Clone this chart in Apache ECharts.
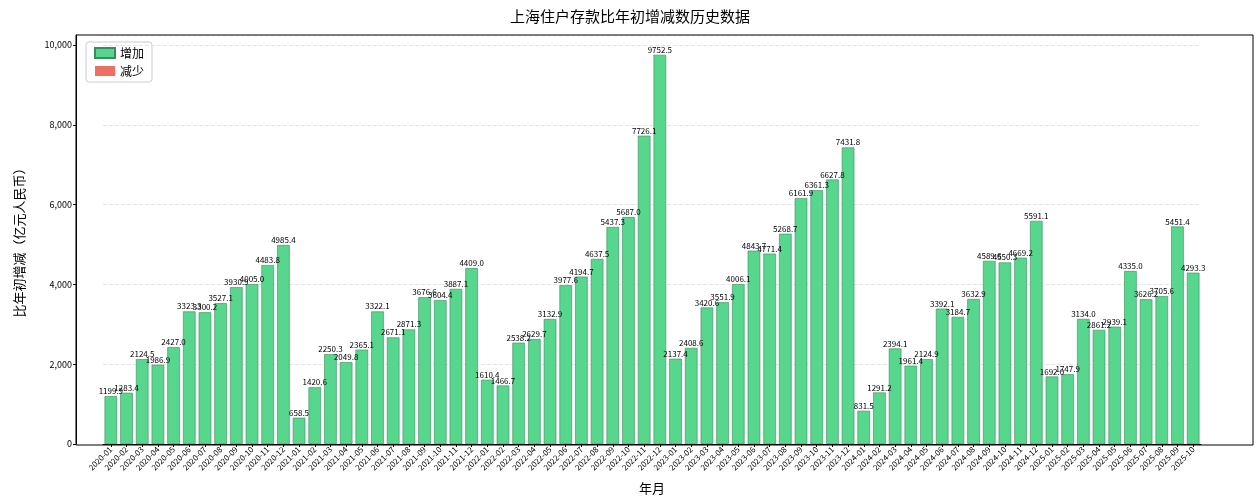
<!DOCTYPE html>
<html>
<head>
<meta charset="utf-8">
<script src="https://cdn.jsdelivr.net/npm/echarts@6/dist/echarts.min.js"></script>
<style>html,body{margin:0;padding:0;background:#fff}#main{width:1260px;height:500px}</style>
</head>
<body>
<div id="main"></div>
<script>
var years = ['2020', '2021', '2022', '2023', '2024', '2025'];
var months = [];
years.forEach(function (y) {
    for (var m = 1; m <= 12; m++) {
        if (y === '2025' && m > 10) break;
        months.push(y + '-' + (m < 10 ? '0' + m : m));
    }
});

var values = [
    1199.9, 1283.4, 2124.5, 1986.9, 2427.0, 3323.3, 3300.2, 3527.1, 3930.9, 4005.0, 4483.8, 4985.4,
    658.5, 1420.6, 2250.3, 2049.8, 2365.1, 3322.1, 2671.1, 2871.3, 3676.6, 3604.4, 3887.1, 4409.0,
    1610.4, 1466.7, 2538.2, 2629.7, 3132.9, 3977.6, 4194.7, 4637.5, 5437.3, 5687.0, 7726.1, 9752.5,
    2137.4, 2408.6, 3420.6, 3551.9, 4006.1, 4843.7, 4771.4, 5268.7, 6161.9, 6361.3, 6627.8, 7431.8,
    831.5, 1291.2, 2394.1, 1961.4, 2124.9, 3392.1, 3184.7, 3632.9, 4589.6, 4550.3, 4669.2, 5591.1,
    1692.0, 1747.9, 3134.0, 2861.2, 2939.1, 4335.0, 3626.2, 3705.6, 5451.4, 4293.3
];

var upData = values.map(function (v) { return v >= 0 ? v : '-'; });
var downData = values.map(function (v) { return v < 0 ? v : '-'; });

var font = '"Noto Sans CJK SC", sans-serif';
var chart = echarts.init(document.getElementById('main'));

chart.setOption({
    animation: false,
    textStyle: { fontFamily: font },
    title: {
        text: '上海住户存款比年初增减数历史数据',
        left: 'center',
        top: 4,
        textStyle: { fontSize: 15, fontWeight: 'normal', color: '#000', fontFamily: font }
    },
    legend: {
        left: 86,
        top: 42,
        orient: 'vertical',
        itemWidth: 20,
        itemHeight: 10,
        itemGap: 6,
        icon: 'rect',
        padding: [5, 8],
        borderColor: '#ccc',
        borderWidth: 1,
        borderRadius: 3,
        textStyle: { fontSize: 12, color: '#000' },
        data: ['增加', '减少']
    },
    graphic: [{
        type: 'rect',
        shape: { x: 76, y: 35, width: 1177, height: 410 },
        style: { fill: 'none', stroke: '#000', lineWidth: 1 },
        silent: true,
        z: 10
    }],
    grid: { left: 103, right: 59, top: 35, bottom: 55 },
    xAxis: {
        type: 'category',
        data: months,
        name: '年月',
        nameLocation: 'middle',
        nameGap: 38,
        nameTextStyle: { fontSize: 13, color: '#000' },
        axisTick: { show: true, alignWithLabel: true, length: 3, lineStyle: { color: '#000' } },
        axisLine: { lineStyle: { color: '#000' } },
        axisLabel: { rotate: 45, interval: 0, fontSize: 8, color: '#000', margin: 4 }
    },
    yAxis: {
        type: 'value',
        min: 0,
        max: 10250,
        interval: 2000,
        offset: 27,
        name: '比年初增减（亿元人民币）',
        nameLocation: 'middle',
        nameGap: 50,
        nameRotate: 90,
        nameTextStyle: { fontSize: 13, color: '#000' },
        axisLine: { show: true, lineStyle: { color: '#000' } },
        axisTick: { show: true, length: 3, lineStyle: { color: '#000' } },
        axisLabel: { fontSize: 9, color: '#000', margin: 4, showMaxLabel: false },
        splitLine: { show: true, lineStyle: { type: 'dashed', color: '#e4e4e4' } }
    },
    series: [{
        name: '增加',
        type: 'bar',
        stack: 'v',
        barWidth: '80%',
        data: upData,
        itemStyle: { color: '#57d68d', borderColor: '#3e8a5e', borderWidth: 0.6 },
        label: {
            show: true,
            position: 'top',
            distance: 1,
            fontSize: 8,
            color: '#000',
            formatter: function (p) { return p.value.toFixed(1); }
        }
    }, {
        name: '减少',
        type: 'bar',
        stack: 'v',
        barWidth: '80%',
        data: downData,
        itemStyle: { color: '#ec7063' }
    }]
});
</script>
</body>
</html>
